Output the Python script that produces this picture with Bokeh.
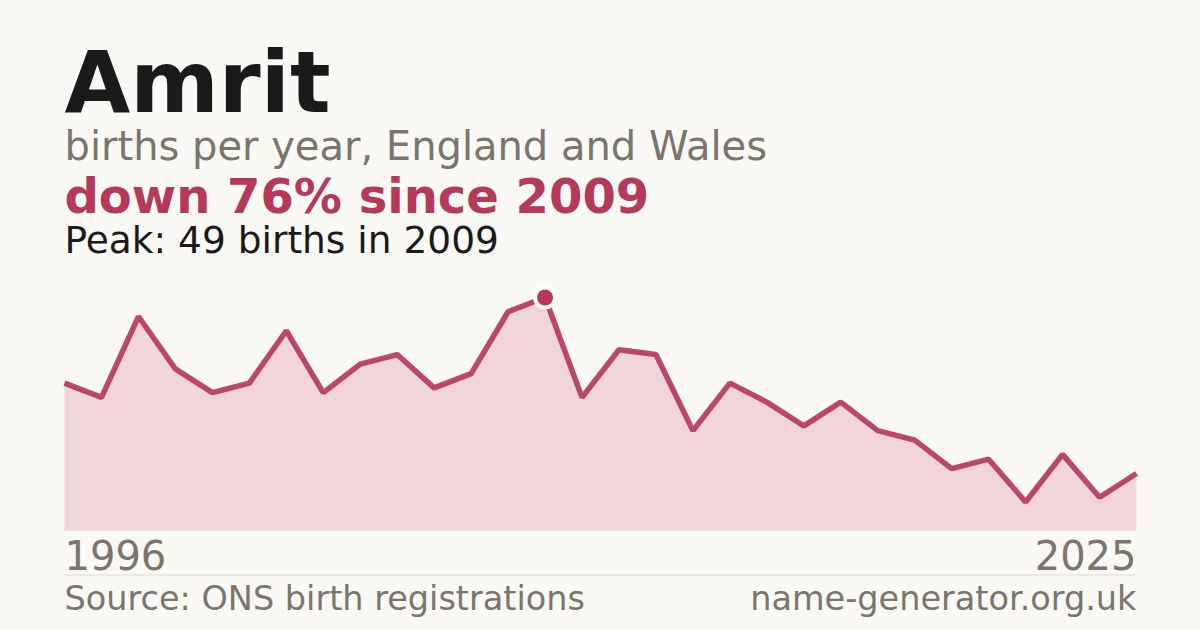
from bokeh.plotting import figure
from bokeh.models import Label, BoxAnnotation, Range1d, ColumnDataSource
from bokeh.embed import file_html
from bokeh.resources import INLINE

# ---- data ----
years = list(range(1996, 2026))
births = [31, 28, 45, 34, 29, 31, 42, 29, 35, 37,
          30, 33, 46, 49, 28, 38, 37, 21, 31, 27,
          22, 27, 21, 19, 13, 15, 6, 16, 7, 12]
name = "Amrit"
subtitle = "births per year, England and Wales"
peak_year = years[births.index(max(births))]
peak_val = max(births)
change = round((births[-1] - peak_val) / peak_val * 100)
headline = f"down {abs(change)}% since {peak_year}"
peak_text = f"Peak: {peak_val} births in {peak_year}"
source_text = "Source: ONS birth registrations"
site_text = "name-generator.org.uk"

# ---- style / layout (pixels) ----
BG = "#faf9f5"
CRIMSON = "#b5395a"
FILL = "#f2d5db"
GRAY = "#7a756d"
DARK = "#1a1a1a"
RULE = "#dedbd4"
FONT = "DejaVu Sans"

W, H = 1200, 630
LEFT, RIGHT = 64, 1136        # chart left/right edge
BASE, TOP = 530, 297          # baseline and peak height

p = figure(width=W, height=H, output_backend="svg", toolbar_location=None,
           min_border=0, background_fill_color=BG,
           border_fill_color=BG, outline_line_color=None)
ppx = (RIGHT - LEFT) / (years[-1] - years[0])
ppy = (BASE - TOP) / peak_val
p.x_range = Range1d(years[0] - LEFT / ppx, years[-1] + (W - RIGHT) / ppx)
p.y_range = Range1d(-(H - BASE) / ppy, peak_val + TOP / ppy)
p.xaxis.visible = False
p.yaxis.visible = False
p.grid.visible = False

src = ColumnDataSource(dict(x=years, y=births, y0=[0] * len(years)))
p.varea(x="x", y1="y0", y2="y", source=src, fill_color=FILL)
p.line(x="x", y="y", source=src, line_color=CRIMSON, line_width=5.5,
       line_alpha=0.92, line_join="bevel", line_cap="butt")
p.scatter(x=[peak_year], y=[peak_val], size=20, fill_color=CRIMSON,
          line_color="white", line_width=4)

def lab(text, x, y, size, color, bold=False, align="left"):
    # y is the wanted baseline (px from top); correct for the baseline offset
    yb = y - 0.36 * size
    p.add_layout(Label(x=x, y=H - yb, x_units="screen", y_units="screen", text=text,
                       text_font=FONT, text_font_size=f"{size}px",
                       text_font_style="bold" if bold else "normal",
                       text_color=color, text_align=align,
                       text_baseline="alphabetic"))

lab(name, LEFT, 113, 85, DARK, bold=True)
lab(subtitle, LEFT, 160, 40, GRAY)
lab(headline, LEFT, 213, 48, CRIMSON, bold=True)
lab(peak_text, LEFT, 253, 37.5, DARK)
lab(str(years[0]), LEFT, 569, 40, GRAY)
lab(str(years[-1]), RIGHT, 569, 40, GRAY, align="right")
lab(source_text, LEFT, 610, 33.5, GRAY)
lab(site_text, RIGHT, 610, 33.5, GRAY, align="right")

p.add_layout(BoxAnnotation(left=LEFT, right=RIGHT, top=H - 574, bottom=H - 575,
                           left_units="screen", right_units="screen",
                           top_units="screen", bottom_units="screen",
                           fill_color=RULE, fill_alpha=1,
                           line_color=None))

html = file_html(p, INLINE)
html = html.replace("<head>", f"<head><style>html,body{{background:{BG};}}</style>", 1)
open("out.html", "w").write(html)
